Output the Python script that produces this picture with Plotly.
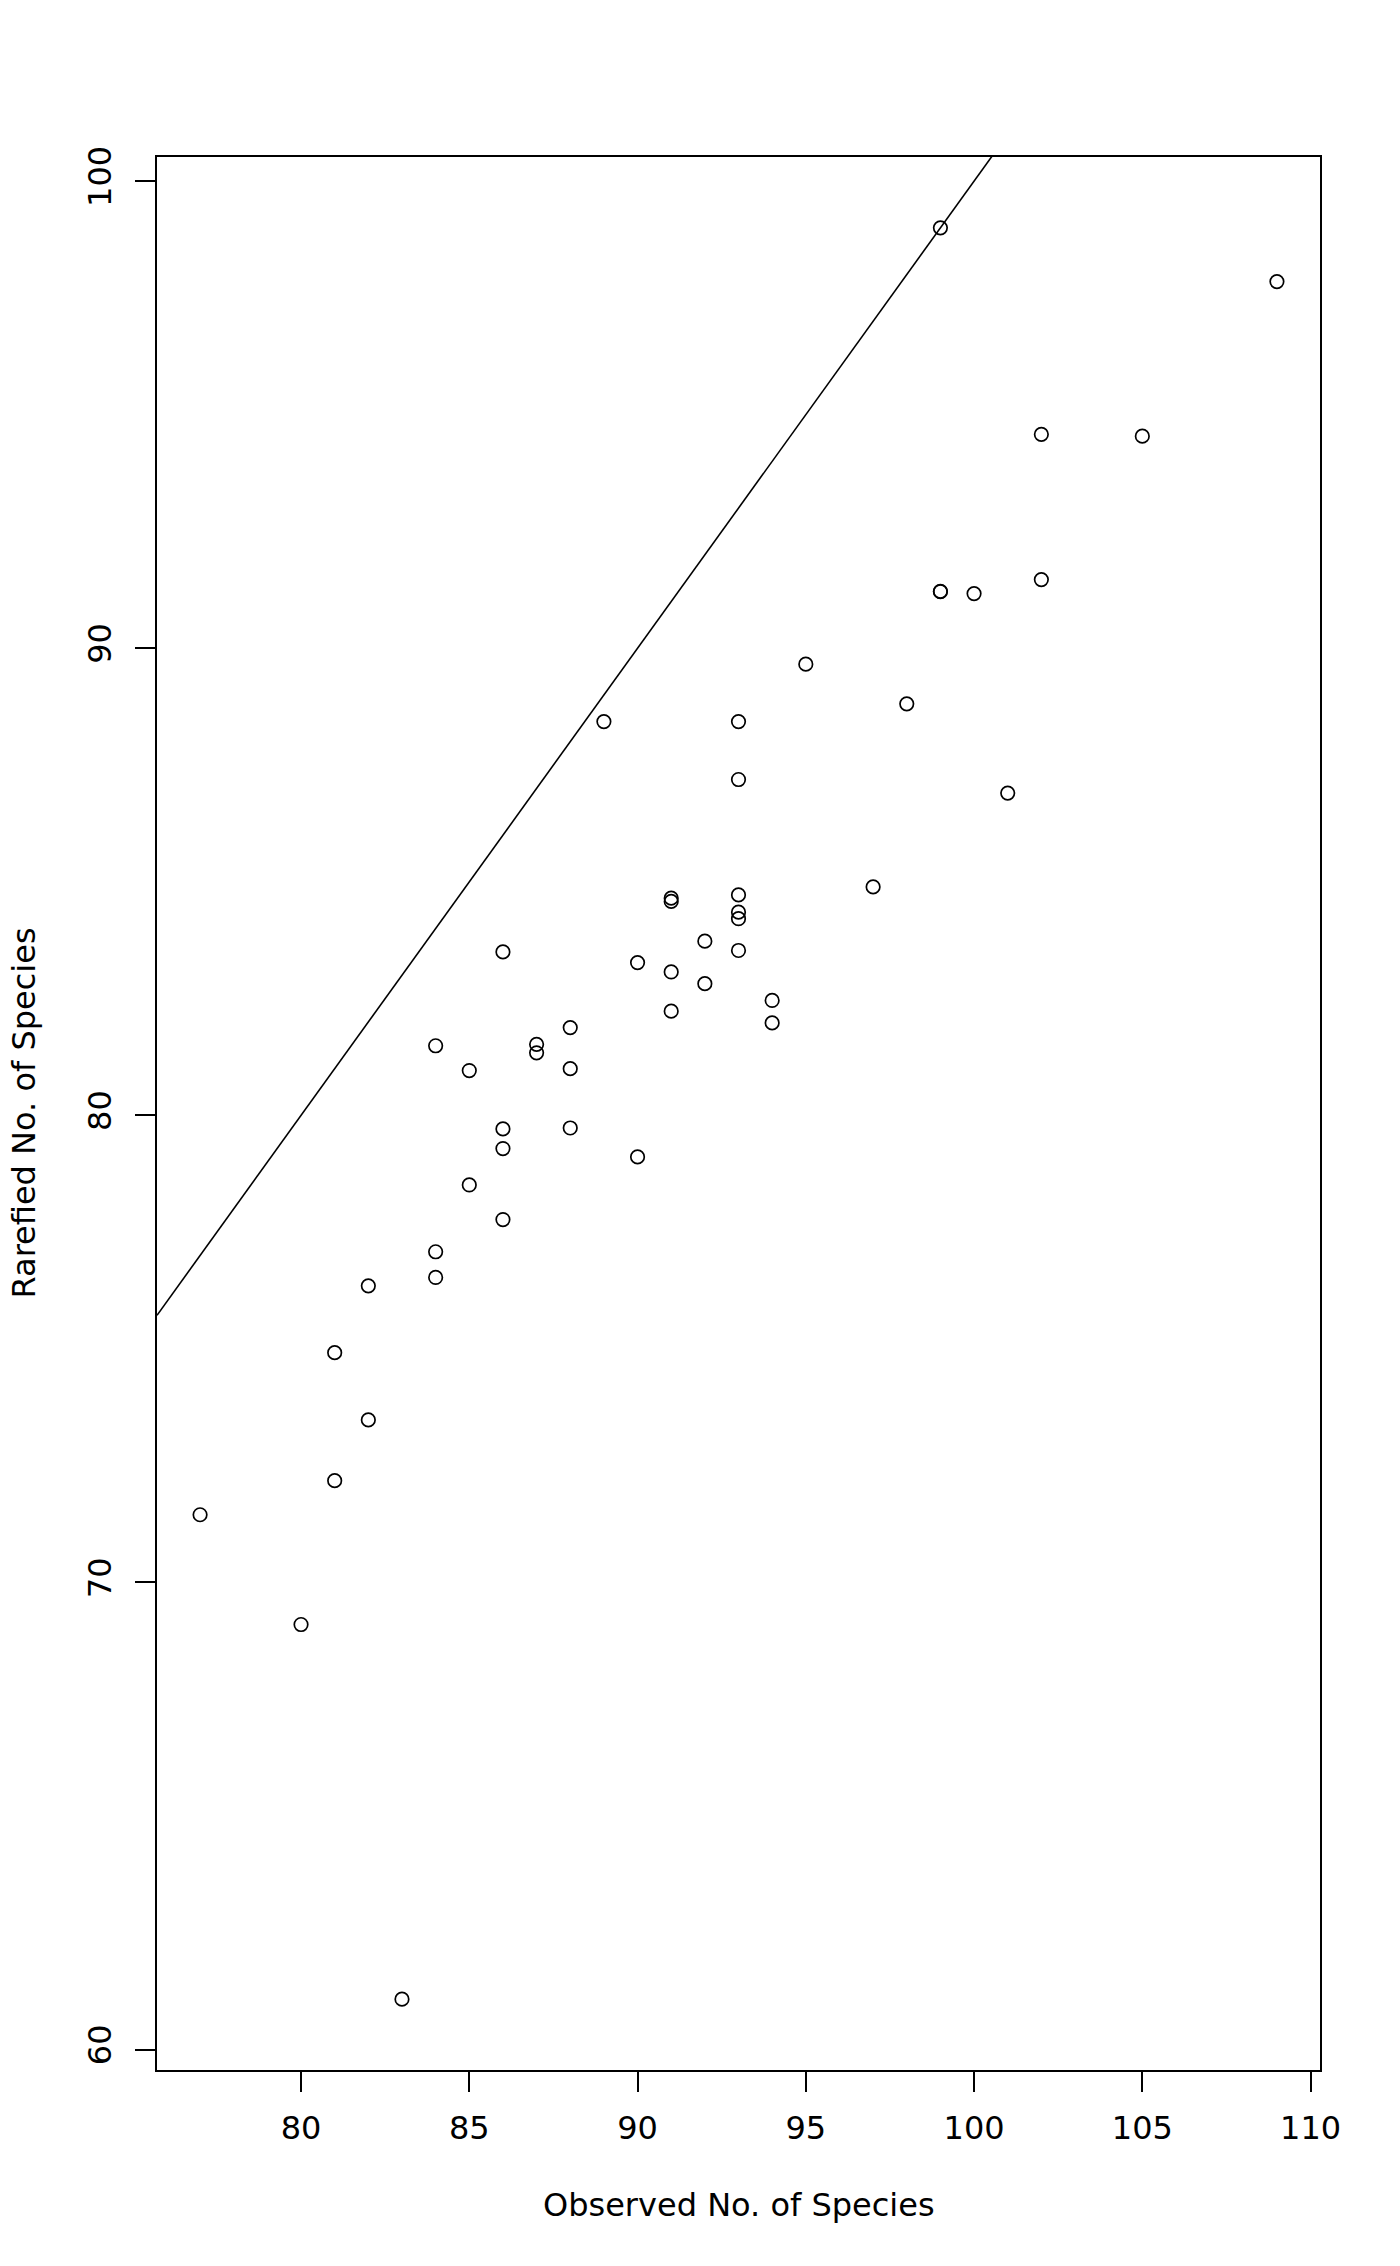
import plotly.graph_objects as go

# observed vs rarefied species counts
observed = [99, 109, 102, 105, 99, 99, 100, 102, 95, 89,
            93, 98, 93, 101, 97, 91, 91, 93, 93, 93,
            92, 86, 93, 90, 91, 92, 94, 91, 94, 88,
            84, 87, 87, 85, 88, 86, 88, 86, 90, 85,
            86, 84, 84, 82, 81, 82, 81, 77, 80, 83]
rarefied = [99.00, 97.85, 94.58, 94.54, 91.21, 91.22, 91.17, 91.47, 89.66, 88.43,
            88.43, 88.81, 87.19, 86.90, 84.89, 84.65, 84.58, 84.72, 84.35, 84.21,
            83.73, 83.50, 83.53, 83.27, 83.07, 82.82, 82.46, 82.23, 81.98, 81.88,
            81.49, 81.52, 81.34, 80.96, 81.00, 79.71, 79.73, 79.29, 79.11, 78.51,
            77.77, 77.08, 76.53, 76.35, 74.92, 73.48, 72.18, 71.45, 69.10, 61.08]

x_ticks = [80, 85, 90, 95, 100, 105, 110]
y_ticks = [60, 70, 80, 90, 100]


def r_range(vals):
    """R style axis range: data range padded 4% each side"""
    lo, hi = min(vals), max(vals)
    pad = 0.04 * (hi - lo)
    return [lo - pad, hi + pad]


x_range = r_range(observed)
y_range = r_range(rarefied)

font = dict(family="DejaVu Sans", size=32, color="black")

fig = go.Figure()

# 1:1 line (abline), clipped by the plot area
fig.add_trace(go.Scatter(x=x_range, y=x_range, mode="lines",
                         line=dict(color="black", width=1.6),
                         hoverinfo="skip", showlegend=False))

fig.add_trace(go.Scatter(x=observed, y=rarefied, mode="markers",
                         marker=dict(symbol="circle-open", size=13.5, color="black",
                                     line=dict(width=1.7, color="black")),
                         cliponaxis=False, showlegend=False))

axis_common = dict(showgrid=False, zeroline=False, showline=True, mirror=True,
                   linecolor="black", linewidth=1.6, ticks="outside", ticklen=20,
                   tickwidth=1.6, tickcolor="black", tickfont=font)

fig.update_xaxes(range=x_range, tickvals=x_ticks, ticklabelstandoff=9, **axis_common)
fig.update_yaxes(range=y_range, tickvals=y_ticks, tickangle=-90,
                 ticklabelstandoff=11, **axis_common)

fig.add_annotation(text="Observed No. of Species", xref="paper", yref="paper",
                   x=0.5, y=0, yanchor="middle", yshift=-135, showarrow=False, font=font)
fig.add_annotation(text="Rarefied No. of Species", xref="paper", yref="paper",
                   x=0, y=0.5, xanchor="center", xshift=-134, textangle=-90,
                   showarrow=False, font=font)

# page body keeps its default 8px margin, so the figure is sized to fit inside it
fig.update_layout(width=1384, height=2250, plot_bgcolor="white", paper_bgcolor="white",
                  margin=dict(l=149, r=72, t=149, b=188), font=font)

fig.write_html("out.html")
